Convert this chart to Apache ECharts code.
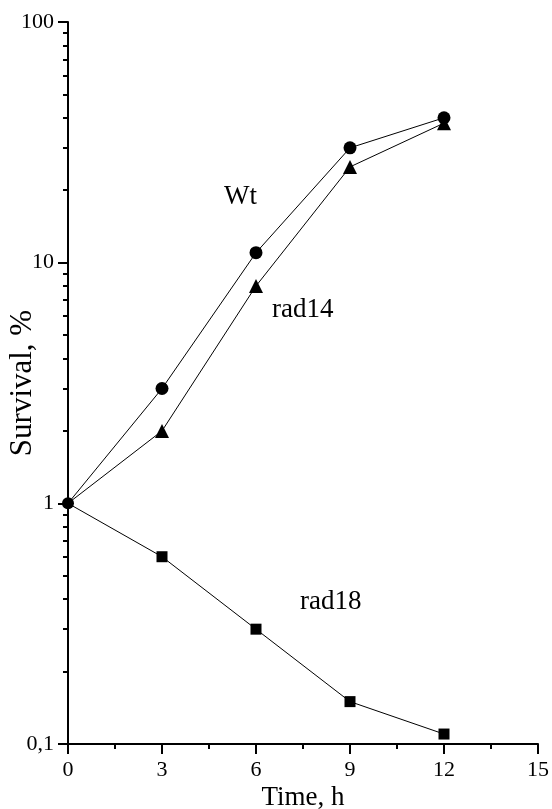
<!DOCTYPE html>
<html>
<head>
<meta charset="utf-8">
<script src="https://cdn.jsdelivr.net/npm/echarts@6/dist/echarts.min.js"></script>
<style>
html,body{margin:0;padding:0;background:#fff;}
#chart{width:552px;height:809px;}
</style>
</head>
<body>
<div id="chart"></div>
<script>
var times = [0, 3, 6, 9, 12];
var wtValues = [1, 3, 11, 30, 40];
var rad14Values = [1, 2, 8, 25, 38];
var rad18Values = [1, 0.6, 0.3, 0.15, 0.11];
var yMinorTicks = [0.2,0.3,0.4,0.5,0.6,0.7,0.8,0.9,2,3,4,5,6,7,8,9,20,30,40,50,60,70,80,90];
var yTickLabels = {0.1: '0,1', 1: '1', 10: '10', 100: '100'};
var seriesLabels = ['Wt', 'rad14', 'rad18'];

function pairs(vals){ return times.map(function(t,i){ return [t, vals[i]]; }); }

var FONT = 'Liberation Serif';
var chart = echarts.init(document.getElementById('chart'));

function mkSeries(name, vals, symbol, size, firstSymbol, firstSize){
  var d = pairs(vals).map(function(p, i){
    if (i === 0) return {value: p, symbol: firstSymbol, symbolSize: firstSize};
    return {value: p};
  });
  return {
    name: name, type: 'line', data: d, symbol: symbol, symbolSize: size,
    lineStyle: {color: '#000', width: 1}, itemStyle: {color: '#000'},
    showAllSymbol: true, clip: false, animation: false, z: 3
  };
}

chart.setOption({
  animation: false,
  backgroundColor: '#fff',
  grid: {left: 68, right: 14, top: 22, bottom: 65, containLabel: false, outerBoundsMode: 'none'},
  xAxis: {
    type: 'value', min: 0, max: 15, interval: 3,
    name: 'Time, h', nameLocation: 'middle', nameGap: 40, nameMoveOverlap: false,
    nameTextStyle: {fontFamily: FONT, fontSize: 27, color: '#000'},
    axisLine: {show: true, onZero: false, lineStyle: {color: '#000', width: 2}},
    axisTick: {show: true, inside: false, length: 10, lineStyle: {color: '#000', width: 2}},
    minorTick: {show: true, splitNumber: 2, length: 5, lineStyle: {color: '#000', width: 2}},
    axisLabel: {fontFamily: FONT, fontSize: 22, color: '#000', margin: 15},
    splitLine: {show: false}
  },
  yAxis: [{
    type: 'log', logBase: 10, min: 0.1, max: 100,
    name: 'Survival, %', nameLocation: 'middle', nameGap: 30, nameRotate: 90, nameMoveOverlap: false,
    nameTextStyle: {fontFamily: FONT, fontSize: 31, color: '#000'},
    axisLine: {show: true, onZero: false, lineStyle: {color: '#000', width: 2}},
    axisTick: {show: true, inside: false, length: 10, lineStyle: {color: '#000', width: 2}},
    axisLabel: {fontFamily: FONT, fontSize: 22, color: '#000', margin: 14,
      formatter: function(v){ return yTickLabels[v] !== undefined ? yTickLabels[v] : String(v).replace('.', ','); }},
    splitLine: {show: false}
  }, {
    type: 'log', logBase: 10, min: 0.1, max: 100, position: 'left', offset: 0,
    axisLine: {show: false, onZero: false},
    axisTick: {show: true, inside: false, length: 5, customValues: yMinorTicks, lineStyle: {color: '#000', width: 2}},
    axisLabel: {show: false},
    splitLine: {show: false}
  }],
  graphic: [
    {type: 'text', left: 224, top: 183, style: {text: seriesLabels[0], fontFamily: FONT, fontSize: 27, fill: '#000'}},
    {type: 'text', left: 272, top: 296, style: {text: seriesLabels[1], fontFamily: FONT, fontSize: 27, fill: '#000'}},
    {type: 'text', left: 300, top: 588, style: {text: seriesLabels[2], fontFamily: FONT, fontSize: 27, fill: '#000'}}
  ],
  series: [
    mkSeries(seriesLabels[0], wtValues, 'circle', 13, 'circle', 12),
    mkSeries(seriesLabels[1], rad14Values, 'triangle', 14, 'none', 0),
    mkSeries(seriesLabels[2], rad18Values, 'rect', 11, 'none', 0)
  ]
});
</script>
</body>
</html>
